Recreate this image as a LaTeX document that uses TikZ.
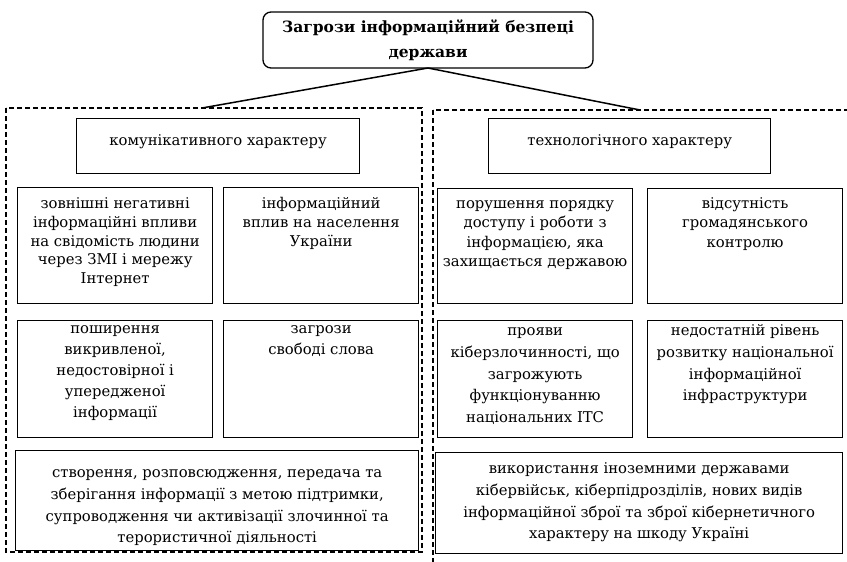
\documentclass[tikz,border=0pt]{standalone}
\usepackage{fontspec}
\setmainfont{DejaVu Serif}
% #1 name, #2 x1, #3 y1, #4 x2, #5 y2, #6 first baseline below top, #7 line spacing, #8 text
\newcommand\tbox[8]{%
  \node[box, anchor=north west,
        minimum width=\dimexpr#4pt-#2pt\relax,
        minimum height=\dimexpr#5pt-#3pt\relax] (#1) at (#2,#3)
  {\parbox[t][\dimexpr#5pt-#3pt\relax][t]{\dimexpr#4pt-#2pt\relax}{%
     \centering\fontsize{14.8}{#7}\selectfont\vspace*{\dimexpr#6pt-14pt\relax}%
     \rule{0pt}{14pt}#8\par}};}
\begin{document}
\begin{tikzpicture}[x=1pt,y=-1pt,
  box/.style={draw, line width=1.3pt, inner sep=0pt, rectangle},
  topbox/.style={draw, line width=1.3pt, rounded corners=8pt, inner sep=0pt,
                 minimum width=330pt, minimum height=56pt, align=center,
                 font=\fontsize{15.5}{25}\selectfont\bfseries},
  group/.style={draw, line width=1.2pt, dash pattern=on 5pt off 3pt},
  link/.style={line width=1.5pt}]
\useasboundingbox (0,0) rectangle (847,562);
\clip (0,0) rectangle (847,562);
\node[topbox] (top) at (428,40) {Загрози інформаційний безпеці\\держави};
\coordinate (tb) at (428,68);
\draw[group] (6,108) rectangle (422,552);
\draw[group] (433,110) rectangle (852,575);
\coordinate (gl) at (202,108);
\coordinate (gr) at (640,110);
\draw[link] (tb) -- (gl);
\draw[link] (tb) -- (gr);
\tbox{hl}{76}{118}{359}{173}{27}{20}{комунікативного характеру}
\tbox{hr}{488}{118}{770}{173}{27}{20}{технологічного характеру}
\tbox{a}{17}{187}{212}{303}{21}{18.7}{зовнішні негативні\\інформаційні впливи\\на свідомість людини\\через ЗМІ і мережу\\Інтернет}
\tbox{b}{223}{187}{418}{303}{21}{18.7}{інформаційний\\вплив на населення\\України}
\tbox{c}{437}{188}{632}{303}{20}{19.3}{порушення порядку\\доступу і роботи з\\інформацією, яка\\захищається державою}
\tbox{d}{647}{188}{842}{303}{20}{19.3}{відсутність\\громадянського\\контролю}
\tbox{e}{17}{320}{212}{437}{13}{21}{поширення\\викривленої,\\недостовірної і\\упередженої\\інформації}
\tbox{f}{223}{320}{418}{437}{13}{21}{загрози\\свободі слова}
\tbox{h}{437}{320}{632}{437}{15}{21.7}{прояви\\кіберзлочинності, що\\загрожують\\функціонуванню\\національних ІТС}
\tbox{i}{647}{320}{842}{437}{15}{21.7}{недостатній рівень\\розвитку національної\\інформаційної\\інфраструктури}
\tbox{g}{15}{450}{418}{550}{27}{21.7}{створення, розповсюдження, передача та\\зберігання інформації з метою підтримки,\\супроводження чи активізації злочинної та\\терористичної діяльності}
\tbox{j}{435}{452}{842}{553}{21}{21.7}{використання іноземними державами\\кібервійськ, кіберпідрозділів, нових видів\\інформаційної зброї та зброї кібернетичного\\характеру на шкоду Україні}
\end{tikzpicture}
\end{document}
